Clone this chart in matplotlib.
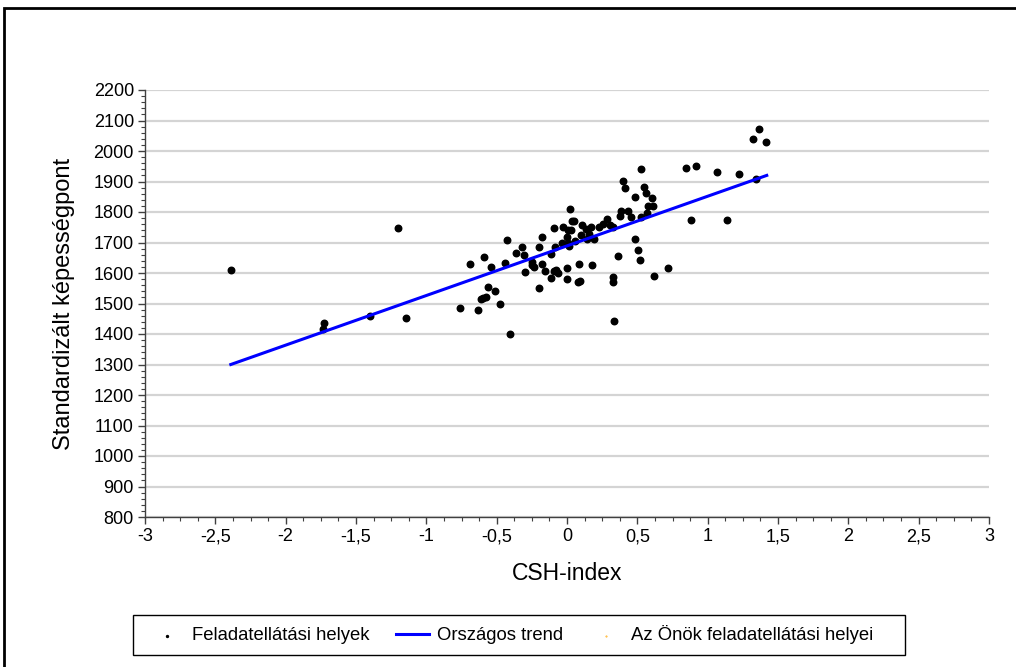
import numpy as np
import matplotlib
matplotlib.use('Agg')
import matplotlib.pyplot as plt
from matplotlib.ticker import MultipleLocator, FuncFormatter
from matplotlib.patches import Rectangle

plt.rcParams['font.family'] = ['Liberation Sans', 'DejaVu Sans']

# feladatellatasi helyek (CSH-index, standardizalt kepessegpont)
csh = [-2.387, -1.729, -1.733, -1.399, -1.200, -1.143,
       -0.762, -0.693, -0.631, -0.591, -0.610, -0.596, -0.579, -0.563, -0.539, -0.515,
       -0.475, -0.439, -0.423, -0.404, -0.364, -0.321, -0.309, -0.297, -0.250, -0.247,
       -0.233, -0.200, -0.198, -0.179, -0.176, -0.155, -0.117, -0.112, -0.094, -0.082,
       -0.091, -0.077, -0.065, -0.034, -0.030, 0.001, 0.004, 0.009, 0.011, 0.023,
       0.025, 0.039, 0.048, 0.001, 0.001, 0.060, 0.082, 0.077, 0.094, 0.101,
       0.105, 0.134, 0.144, 0.158, 0.174, 0.181, 0.190, 0.226, 0.254, 0.281,
       0.307, 0.326, 0.328, 0.328, 0.335, 0.361, 0.380, 0.387, 0.399, 0.414,
       0.432, 0.456, 0.482, 0.485, 0.503, 0.520, 0.527, 0.527, 0.544, 0.563,
       0.567, 0.577, 0.606, 0.610, 0.615, 0.716, 0.844, 0.880, 0.918, 1.065,
       1.134, 1.221, 1.323, 1.347, 1.368, 1.418]
pont = [1610, 1436, 1417, 1458, 1748, 1452,
        1486, 1630, 1479, 1653, 1514, 1519, 1522, 1555, 1619, 1541,
        1497, 1634, 1709, 1399, 1667, 1685, 1659, 1602, 1635, 1626,
        1621, 1686, 1550, 1719, 1630, 1608, 1583, 1662, 1747, 1686,
        1606, 1609, 1599, 1699, 1751, 1719, 1741, 1699, 1690, 1810,
        1741, 1770, 1770, 1617, 1581, 1704, 1630, 1571, 1573, 1724,
        1757, 1743, 1710, 1727, 1751, 1626, 1710, 1751, 1761, 1776,
        1757, 1752, 1586, 1571, 1444, 1656, 1788, 1803, 1901, 1878,
        1803, 1784, 1849, 1710, 1674, 1643, 1940, 1783, 1881, 1862,
        1797, 1820, 1846, 1820, 1591, 1615, 1943, 1773, 1952, 1931,
        1775, 1924, 2038, 1908, 2071, 2029]

# orszagos trend vegpontjai
trend_x = [-2.39, 1.42]
trend_y = [1300, 1920]

fig = plt.figure(figsize=(10.16, 6.67), dpi=100)
W, H = 1016, 667
ax = fig.add_axes([145/W, 1-517/H, (989-145)/W, (517-90)/H])

ax.yaxis.grid(True, color='#d4d4d4', linewidth=1.6, zorder=0)
ax.set_axisbelow(True)
ax.scatter(csh, pont, s=22, color='black', zorder=3, label='Feladatellátási helyek')
ax.plot(trend_x, trend_y, color='#0000ff', linewidth=2.2, zorder=4, label='Országos trend')
ax.scatter([], [], s=2, color='#ffa500', label='Az Önök feladatellátási helyei')

ax.set_xlim(-3, 3)
ax.set_ylim(800, 2200)
ax.xaxis.set_major_locator(MultipleLocator(0.5))
ax.xaxis.set_minor_locator(MultipleLocator(0.125))
ax.yaxis.set_major_locator(MultipleLocator(100))
ax.yaxis.set_minor_locator(MultipleLocator(20))
ax.xaxis.set_major_formatter(FuncFormatter(lambda v, p: ('%g' % v).replace('.', ',')))

for s in ['top', 'right']:
    ax.spines[s].set_visible(False)
for s in ['left', 'bottom']:
    ax.spines[s].set_color('#404040')
    ax.spines[s].set_linewidth(1.0)
ax.tick_params(which='major', length=5, width=1, color='#404040', labelsize=13, pad=3)
ax.tick_params(which='minor', length=3, width=0.8, color='#404040')

ax.set_xlabel('CSH-index', fontsize=16.5, labelpad=12)
ax.set_ylabel('Standardizált képességpont', fontsize=17, labelpad=13)

h, l = ax.get_legend_handles_labels()
leg = fig.legend(h, l, loc='center', ncol=3,
                 bbox_to_anchor=(512/W, 1-635/H),
                 fontsize=13.3, frameon=False,
                 handlelength=1.8, handletextpad=0.45,
                 columnspacing=1.4, markerscale=0.3)

# legend keret
fig.patches.append(Rectangle((133/W, 1-655/H), (905-133)/W, 40/H, transform=fig.transFigure,
                             fill=False, edgecolor='black', linewidth=1.0))
# keret a grafika korul
fig.patches.append(Rectangle((4/W, -0.05), 1.1, 1-8/H+0.05, transform=fig.transFigure,
                             fill=False, edgecolor='black', linewidth=2))

plt.savefig('out.png', dpi=100)
